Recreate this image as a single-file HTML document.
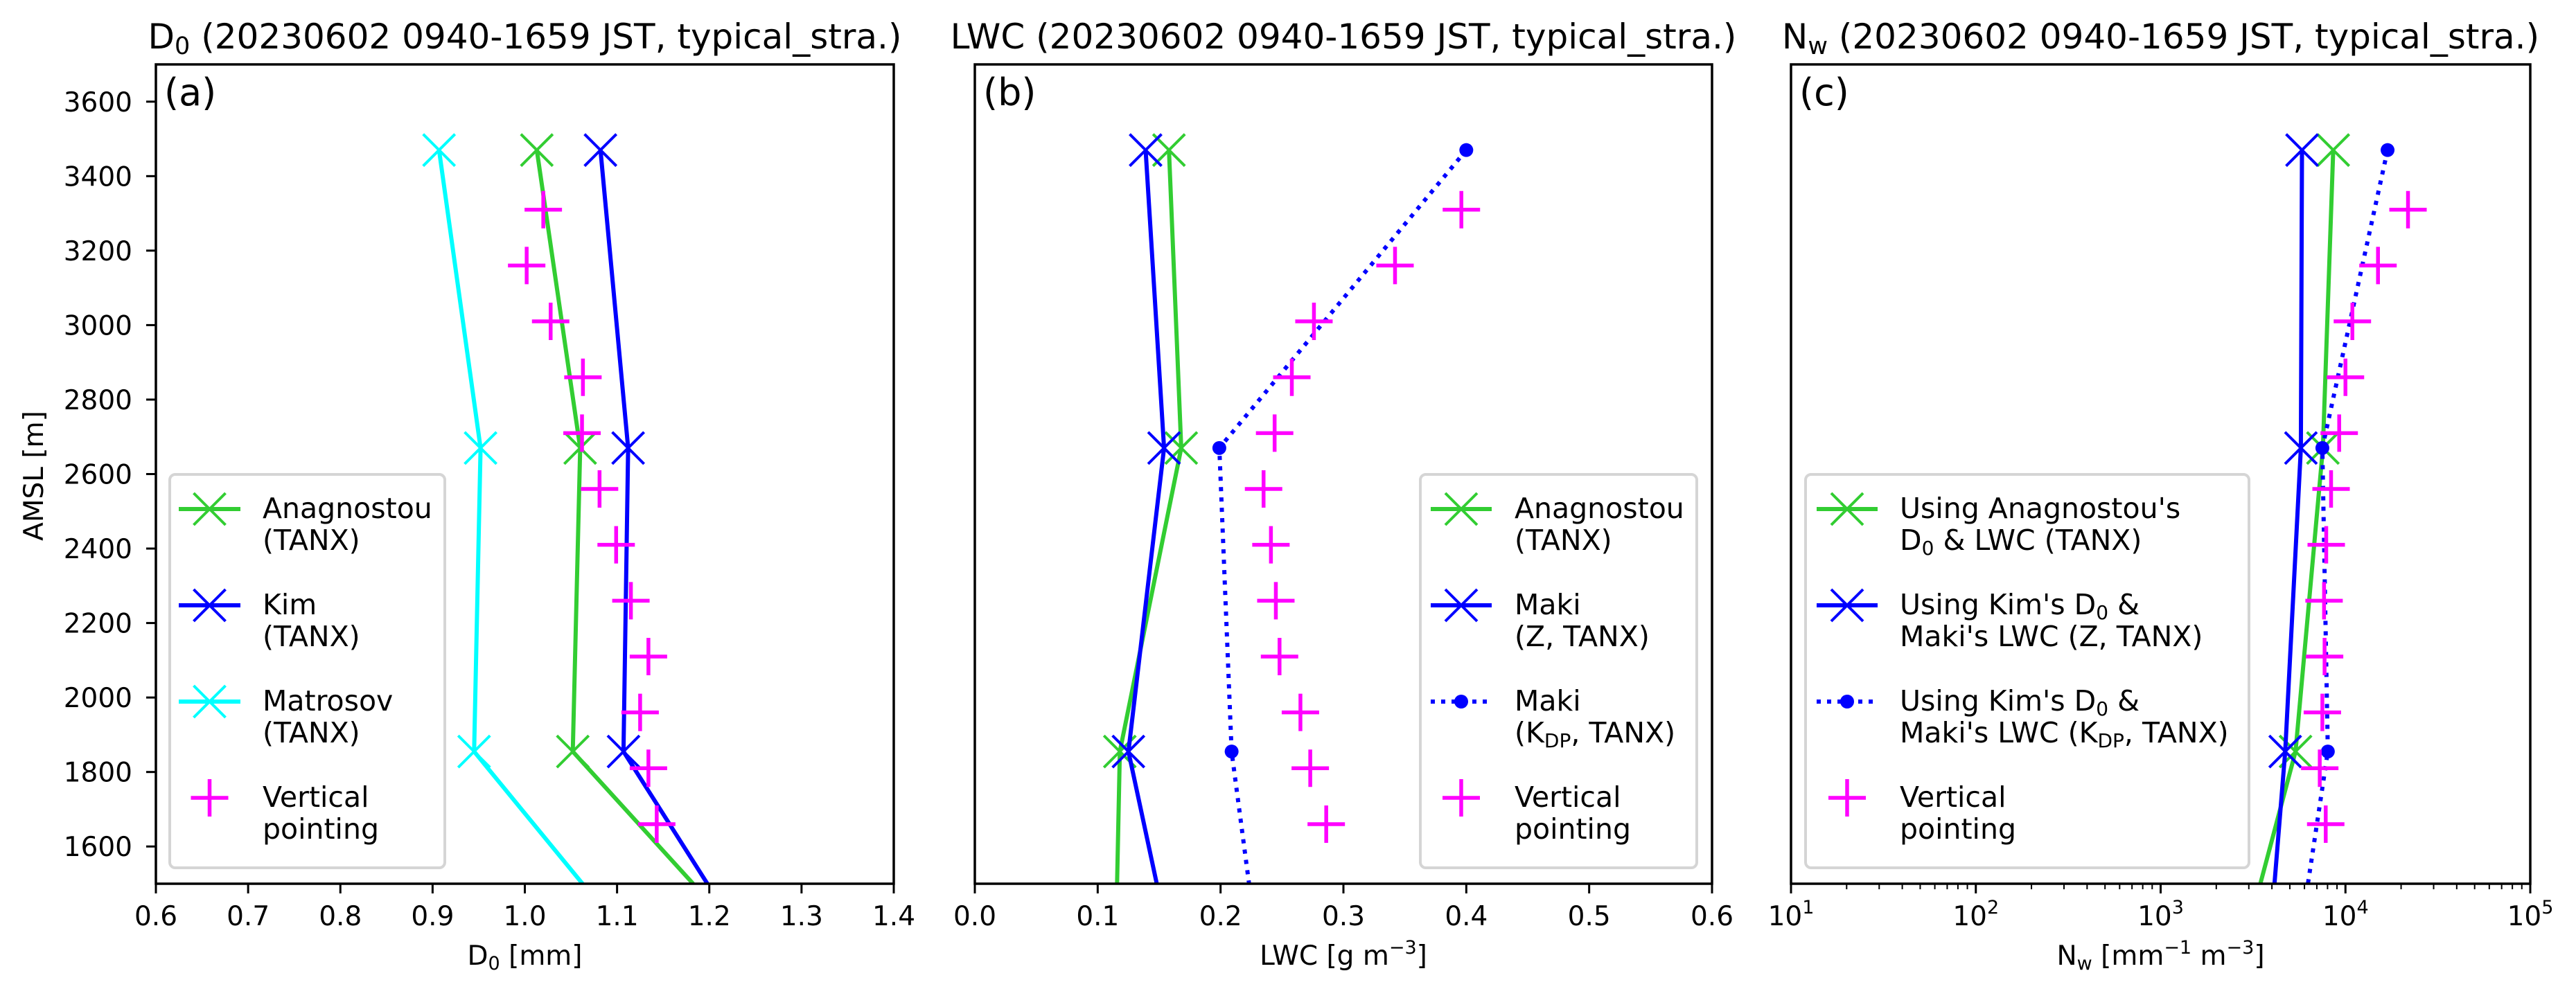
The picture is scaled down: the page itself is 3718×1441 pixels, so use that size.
<!DOCTYPE html>
<html><head><meta charset="utf-8"><style>
html,body{margin:0;padding:0;background:#fff;overflow:hidden;width:3718px;height:1441px}
svg{display:block}
text{font-family:"DejaVu Sans","Liberation Sans",sans-serif;fill:#000}
</style></head><body>
<svg id="fig" width="3718" height="1441" viewBox="0 0 3718 1441" xmlns="http://www.w3.org/2000/svg"></svg>
<script>
// ---- data ----
const radarHeights = [3470, 2670, 1855, 1055];
const vpHeights = [3310, 3160, 3010, 2860, 2710, 2560, 2410, 2260, 2110, 1960, 1810, 1660];
const d0Anag = [1.013, 1.060, 1.052, 1.346];
const d0Kim = [1.082, 1.112, 1.107, 1.312];
const d0Matrosov = [0.907, 0.952, 0.945, 1.21];
const d0Vp = [1.020, 1.002, 1.028, 1.063, 1.062, 1.081, 1.099, 1.115, 1.134, 1.125, 1.134, 1.143];
const lwcAnag = [0.158, 0.168, 0.118, 0.113];
const lwcMakiZ = [0.139, 0.154, 0.125, 0.177];
const lwcMakiKdp = [0.400, 0.199, 0.209, 0.241];
const lwcVp = [0.396, 0.342, 0.276, 0.258, 0.244, 0.235, 0.241, 0.245, 0.248, 0.265, 0.273, 0.286];
const nwAnag = [8590, 7550, 5370, 2000];
const nwKimZ = [5820, 5740, 4720, 3490];
const nwKimKdp = [16900, 7500, 8030, 4590];
const nwVp = [21800, 15000, 10900, 10000, 9250, 8360, 7870, 7660, 7710, 7500, 7260, 7820];
const yTicks = [1600, 1800, 2000, 2200, 2400, 2600, 2800, 3000, 3200, 3400, 3600];
const xTicksA = [0.6, 0.7, 0.8, 0.9, 1.0, 1.1, 1.2, 1.3, 1.4];
const xTicksB = [0.0, 0.1, 0.2, 0.3, 0.4, 0.5, 0.6];
const xTicksC = [1, 2, 3, 4, 5];

const NS = "http://www.w3.org/2000/svg";
const svg = document.getElementById('fig');
function el(tag, attrs, parent) {
  const e = document.createElementNS(NS, tag);
  for (const k in attrs) e.setAttribute(k, attrs[k]);
  (parent || svg).appendChild(e);
  return e;
}
const YMIN = 1500, YMAX = 3700;
const TOP = 93, BOT = 1276;
const yScale = v => BOT - (v - YMIN) / (YMAX - YMIN) * (BOT - TOP);
const FS = 39, LFS = 41, LW = 6;

const panels = [
  {id:'a', L:225, R:1290, lin:[0.6,1.4], ticks:xTicksA, fmt:v=>v.toFixed(1)},
  {id:'b', L:1407, R:2471, lin:[0,0.6], ticks:xTicksB, fmt:v=>v.toFixed(1)},
  {id:'c', L:2585, R:3652, log:[1,5], ticks:xTicksC}
];
panels.forEach(p => {
  if (p.lin) p.x = v => p.L + (v - p.lin[0]) / (p.lin[1] - p.lin[0]) * (p.R - p.L);
  else p.x = v => p.L + (Math.log10(v) - p.log[0]) / (p.log[1] - p.log[0]) * (p.R - p.L);
});

function marker(g, type, x, y, color) {
  let m;
  if (type === 'x') {
    const s = 23;
    m = el('path', {d:`M${x-s},${y-s}L${x+s},${y+s}M${x-s},${y+s}L${x+s},${y-s}`, stroke:color, 'stroke-width':4, fill:'none'}, g);
  } else if (type === '+') {
    const s = 27;
    m = el('path', {d:`M${x-s},${y}L${x+s},${y}M${x},${y-s}L${x},${y+s}`, stroke:color, 'stroke-width':5.5, fill:'none'}, g);
  } else {
    m = el('circle', {cx:x, cy:y, r:10, fill:color}, g);
  }
  return m;
}
function series(p, vals, heights, color, mk, line, dotted, name) {
  const g = el('g', {'clip-path':`url(#clip-${p.id})`});
  
  
  if (line) {
    // build pixel points, cutting the line at the bottom axis edge
    const pts = [];
    for (let i = 0; i < vals.length; i++) {
      const px = p.x(vals[i]), py = yScale(heights[i]);
      if (heights[i] >= YMIN) { pts.push([px, py]); continue; }
      if (i > 0 && heights[i-1] >= YMIN) {
        const qx = p.x(vals[i-1]), qy = yScale(heights[i-1]);
        const f = (BOT - qy) / (py - qy);
        pts.push([qx + f * (px - qx), BOT]);
      }
      break;
    }
    const pl = el('polyline', {points:pts.map(q => q[0].toFixed(1)+','+q[1].toFixed(1)).join(' '), fill:'none', stroke:color, 'stroke-width':LW, 'stroke-linejoin':'round'}, g);
    if (dotted) { pl.setAttribute('stroke-dasharray', '6 9'); }
  }
  vals.forEach((v,i) => {
    if (heights[i] < YMIN) return;
    const m = marker(g, mk, p.x(v), yScale(heights[i]), color);
    
    
  });
}
const defs = el('defs', {});
panels.forEach(p => {
  const cp = el('clipPath', {id:'clip-'+p.id}, defs);
  el('rect', {x:p.L, y:TOP, width:p.R-p.L, height:BOT-TOP}, cp);
});

// Titles
const titleTexts = [['D','0',' (20230602 0940-1659 JST, typical_stra.)'],['LWC','',' (20230602 0940-1659 JST, typical_stra.)'],['N','w',' (20230602 0940-1659 JST, typical_stra.)']];
panels.forEach((p,i) => {
  const t = el('text', {x:(p.L+p.R)/2, y:70, 'font-size':50, 'text-anchor':'middle'});
  
  
  t.appendChild(document.createTextNode(titleTexts[i][0]));
  if (titleTexts[i][1]) { const s = el('tspan', {'font-size':35, dy:8}, t); s.textContent = titleTexts[i][1]; const r = el('tspan', {dy:-8}, t); r.textContent = titleTexts[i][2]; }
  else t.appendChild(document.createTextNode(titleTexts[i][2]));
});

// Series
const pa = panels[0], pb = panels[1], pc = panels[2];
series(pa, d0Matrosov, radarHeights, '#00ffff', 'x', true, false, 'matrosov-d0-series');
series(pa, d0Anag, radarHeights, '#32cd32', 'x', true, false, 'anagnostou-d0-series');
series(pa, d0Kim, radarHeights, '#0000ff', 'x', true, false, 'kim-d0-series');
series(pa, d0Vp, vpHeights, '#ff00ff', '+', false, false, 'vertical-pointing-d0-series');
series(pb, lwcAnag, radarHeights, '#32cd32', 'x', true, false, 'anagnostou-lwc-series');
series(pb, lwcMakiZ, radarHeights, '#0000ff', 'x', true, false, 'maki-z-lwc-series');
series(pb, lwcMakiKdp, radarHeights, '#0000ff', 'o', true, true, 'maki-kdp-lwc-series');
series(pb, lwcVp, vpHeights, '#ff00ff', '+', false, false, 'vertical-pointing-lwc-series');
series(pc, nwAnag, radarHeights, '#32cd32', 'x', true, false, 'anagnostou-nw-series');
series(pc, nwKimZ, radarHeights, '#0000ff', 'x', true, false, 'kim-maki-z-nw-series');
series(pc, nwKimKdp, radarHeights, '#0000ff', 'o', true, true, 'kim-maki-kdp-nw-series');
series(pc, nwVp, vpHeights, '#ff00ff', '+', false, false, 'vertical-pointing-nw-series');

// Axes
panels.forEach(p => {
  const fr = el('rect', {x:p.L, y:TOP, width:p.R-p.L, height:BOT-TOP, fill:'none', stroke:'#000', 'stroke-width':3.5});
  
  
  const lab = el('text', {x:p.L+12, y:152, 'font-size':54});
  lab.textContent = '(' + p.id + ')';
  
  
  p.ticks.forEach(v => {
    const val = p.lin ? v : Math.pow(10, v);
    const x = p.x(val);
    el('line', {x1:x, x2:x, y1:BOT, y2:BOT+14, stroke:'#000', 'stroke-width':3});
    const t = el('text', {x:x, y:1336, 'font-size':FS, 'text-anchor':'middle'});
    
    
    if (p.lin) t.textContent = p.fmt(v);
    else { t.appendChild(document.createTextNode('10')); const s = el('tspan', {'font-size':27, dy:-17}, t); s.textContent = String(v); }
  });
  if (p.log) {
    for (let d = 1; d < 5; d++) for (let k = 2; k <= 9; k++) {
      const x = p.x(k * Math.pow(10, d));
      el('line', {x1:x, x2:x, y1:BOT, y2:BOT+8, stroke:'#000', 'stroke-width':2});
    }
  }
});
yTicks.forEach(v => {
  const y = yScale(v);
  el('line', {x1:pa.L-14, x2:pa.L, y1:y, y2:y, stroke:'#000', 'stroke-width':3});
  const t = el('text', {x:pa.L-34, y:y+14, 'font-size':FS, 'text-anchor':'end'});
  t.textContent = v;
  
  
});
// Axis titles
let t = el('text', {x:0, y:0, 'font-size':FS, 'text-anchor':'middle', transform:`translate(62,687) rotate(-90)`});
t.textContent = 'AMSL [m]';
 
const XLY = 1393;
t = el('text', {x:(pa.L+pa.R)/2, y:XLY, 'font-size':FS, 'text-anchor':'middle'});
 
t.appendChild(document.createTextNode('D')); let s = el('tspan', {'font-size':27, dy:7}, t); s.textContent = '0'; s = el('tspan', {dy:-7}, t); s.textContent = ' [mm]';
t = el('text', {x:(pb.L+pb.R)/2, y:XLY, 'font-size':FS, 'text-anchor':'middle'});
 
t.appendChild(document.createTextNode('LWC [g m')); s = el('tspan', {'font-size':27, dy:-16}, t); s.textContent = '−3'; s = el('tspan', {dy:16}, t); s.textContent = ']';
t = el('text', {x:(pc.L+pc.R)/2, y:XLY, 'font-size':FS, 'text-anchor':'middle'});
 
t.appendChild(document.createTextNode('N')); s = el('tspan', {'font-size':27, dy:7}, t); s.textContent = 'w';
s = el('tspan', {dy:-7}, t); s.textContent = ' [mm'; s = el('tspan', {'font-size':27, dy:-16}, t); s.textContent = '−1';
s = el('tspan', {dy:16}, t); s.textContent = ' m'; s = el('tspan', {'font-size':27, dy:-16}, t); s.textContent = '−3'; s = el('tspan', {dy:16}, t); s.textContent = ']';

// Legends
function legend(id, bx, bw, hx1, hx2, tx, entries) {
  const g = el('g', {});
  
  
  el('rect', {x:bx, y:685, width:bw, height:568, rx:8, fill:'#fff', 'fill-opacity':0.85, stroke:'#d5d5d5', 'stroke-width':4}, g);
  entries.forEach((e, i) => {
    const cy = 735 + i * 139;
    const eg = el('g', {}, g);
    
    
    if (e.line) { const l = el('line', {x1:hx1, x2:hx2, y1:cy, y2:cy, stroke:e.color, 'stroke-width':LW}, eg); if (e.dotted) l.setAttribute('stroke-dasharray','6 9'); }
    marker(eg, e.mk, (hx1+hx2)/2, cy, e.color);
    e.lines.forEach((ln, j) => {
      const tt = el('text', {x:tx, y:cy + 13 + j*46, 'font-size':LFS}, eg);
      ln.forEach(part => {
        if (typeof part === 'string') tt.appendChild(document.createTextNode(part));
        else { const a = el('tspan', {'font-size':28, dy:7}, tt); a.textContent = part.sub; const b = el('tspan', {dy:-7}, tt); b.textContent = '\u200b'; }
      });
    });
  });
}
legend('a', 245, 397, 258, 347, 379, [
  {color:'#32cd32', mk:'x', line:true, lines:[['Anagnostou'],['(TANX)']]},
  {color:'#0000ff', mk:'x', line:true, lines:[['Kim'],['(TANX)']]},
  {color:'#00ffff', mk:'x', line:true, lines:[['Matrosov'],['(TANX)']]},
  {color:'#ff00ff', mk:'+', line:false, lines:[['Vertical'],['pointing']]}
]);
legend('b', 2050, 399, 2065, 2153, 2186, [
  {color:'#32cd32', mk:'x', line:true, lines:[['Anagnostou'],['(TANX)']]},
  {color:'#0000ff', mk:'x', line:true, lines:[['Maki'],['(Z, TANX)']]},
  {color:'#0000ff', mk:'o', line:true, dotted:true, lines:[['Maki'],['(K', {sub:'DP'}, ', TANX)']]},
  {color:'#ff00ff', mk:'+', line:false, lines:[['Vertical'],['pointing']]}
]);
legend('c', 2606, 640, 2622, 2710, 2742, [
  {color:'#32cd32', mk:'x', line:true, lines:[["Using Anagnostou's"],['D', {sub:'0'}, ' & LWC (TANX)']]},
  {color:'#0000ff', mk:'x', line:true, lines:[["Using Kim's D", {sub:'0'}, ' &'],["Maki's LWC (Z, TANX)"]]},
  {color:'#0000ff', mk:'o', line:true, dotted:true, lines:[["Using Kim's D", {sub:'0'}, ' &'],["Maki's LWC (K", {sub:'DP'}, ', TANX)']]},
  {color:'#ff00ff', mk:'+', line:false, lines:[['Vertical'],['pointing']]}
]);
</script>
</body></html>
